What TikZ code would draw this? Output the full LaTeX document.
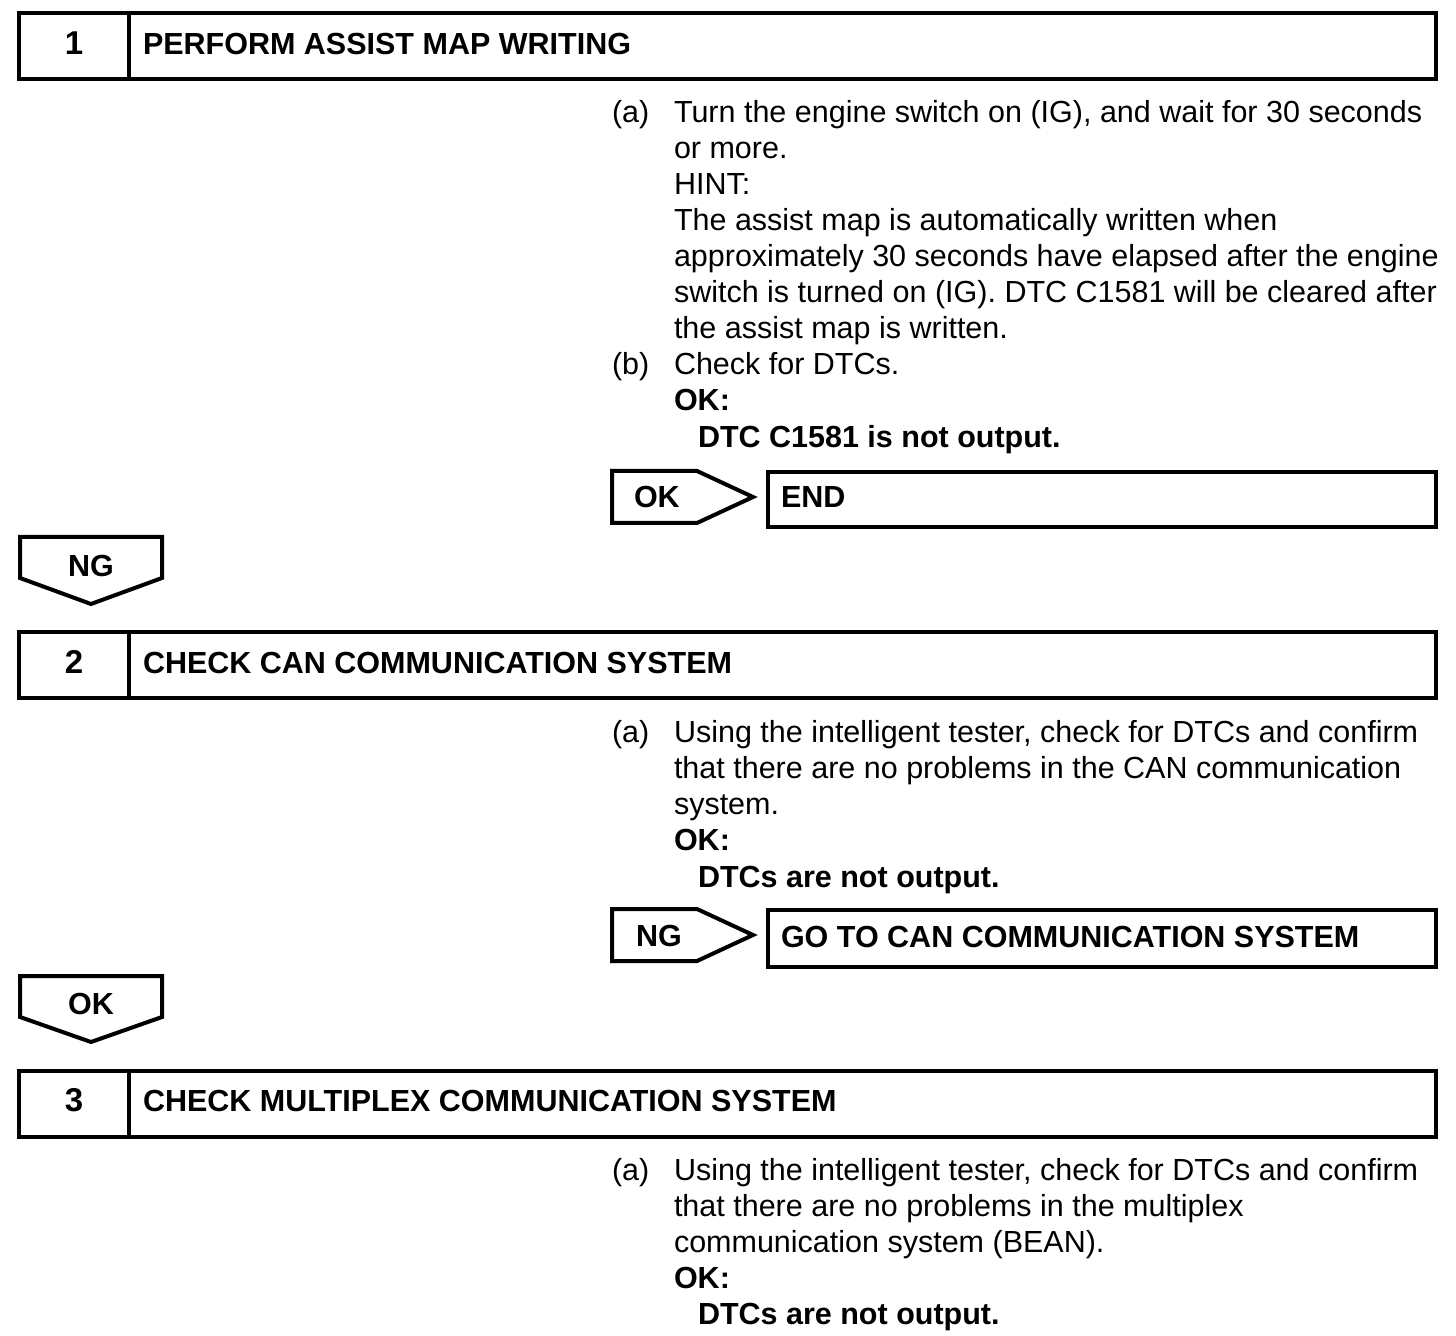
\documentclass[tikz,border=0pt]{standalone}
\usepackage{fontspec}
\setmainfont{Liberation Sans}

\begin{document}
\begin{tikzpicture}[x=0.5pt, y=-0.5pt, line width=2pt, line join=miter,
    txt/.style={font=\fontsize{15.25}{18}\selectfont, inner sep=0pt, anchor=base west},
    bold/.style={txt, font=\fontsize{15.25}{18}\selectfont\bfseries},
    num/.style={bold, anchor=base}]
        \useasboundingbox (0,0) rectangle (1456,1336);

        % step 1
        \draw (19,13) rectangle (1436,79);
        \draw (129,13)--(129,79);
        \node[num, font=\fontsize{16.5}{18}\selectfont\bfseries] (n1) at (74,55) {1};
        \node[bold] (h1) at (141,55) {PERFORM ASSIST MAP WRITING};

        \node[txt] (a1) at (610,123) {(a)};
        \foreach \line [count=\i] in {{Turn the engine switch on (IG), and wait for 30 seconds},
            or more., HINT:, The assist map is automatically written when,
            approximately 30 seconds have elapsed after the engine,
            {switch is turned on (IG). DTC C1581 will be cleared after},
            the assist map is written.}
          \node[txt] (t1-\i) at (672,87+36*\i) {\line};
        \node[txt] (b1) at (610,375) {(b)};
        \node[txt] (t1-8) at (672,375) {Check for DTCs.};
        \node[bold] (ok1) at (672,411) {OK:};
        \node[bold] (sp1) at (696,448) {DTC C1581 is not output.};

        \coordinate (A) at (612,471);
        \coordinate (B) at (697,471);
        \coordinate (C) at (753,497);
        \coordinate (D) at (697,523);
        \coordinate (E) at (612,523);
        \draw (A)--(B)--(C)--(D)--(E)--cycle;
        \node[bold] (r1) at (632,508) {OK};
        \draw (768,472) rectangle (1436,527);
        \node[bold] (end) at (779,508) {END};

        \coordinate (F) at (20,537);
        \coordinate (G) at (162,537);
        \coordinate (H) at (162,578);
        \coordinate (I) at (91,604);
        \coordinate (J) at (20,578);
        \draw (F)--(G)--(H)--(I)--(J)--cycle;
        \node[num] (d1) at (91,576) {NG};

        % step 2
        \draw (19,632) rectangle (1436,698);
        \draw (129,632)--(129,698);
        \node[num, font=\fontsize{16.5}{18}\selectfont\bfseries] (n2) at (74,673) {2};
        \node[bold] (h2) at (141,673) {CHECK CAN COMMUNICATION SYSTEM};

        \node[txt] (a2) at (610,742) {(a)};
        \foreach \line [count=\i] in {{Using the intelligent tester, check for DTCs and confirm},
            that there are no problems in the CAN communication, system.}
          \node[txt] (t2-\i) at (672,706+36*\i) {\line};
        \node[bold] (ok2) at (672,850) {OK:};
        \node[bold] (sp2) at (696,887) {DTCs are not output.};

        \coordinate (K) at (612,909);
        \coordinate (L) at (697,909);
        \coordinate (M) at (753,935);
        \coordinate (N) at (697,961);
        \coordinate (O) at (612,961);
        \draw (K)--(L)--(M)--(N)--(O)--cycle;
        \node[bold] (r2) at (634,946) {NG};
        \draw (768,910) rectangle (1436,967);
        \node[bold] (go) at (779,947) {GO TO CAN COMMUNICATION SYSTEM};

        \coordinate (P) at (20,976);
        \coordinate (Q) at (162,976);
        \coordinate (R) at (162,1017);
        \coordinate (S) at (91,1042);
        \coordinate (T) at (20,1017);
        \draw (P)--(Q)--(R)--(S)--(T)--cycle;
        \node[num] (d2) at (91,1014) {OK};

        % step 3
        \draw (19,1071) rectangle (1436,1137);
        \draw (129,1071)--(129,1137);
        \node[num, font=\fontsize{16.5}{18}\selectfont\bfseries] (n3) at (74,1111) {3};
        \node[bold] (h3) at (141,1111) {CHECK MULTIPLEX COMMUNICATION SYSTEM};

        \node[txt] (a3) at (610,1180) {(a)};
        \foreach \line [count=\i] in {{Using the intelligent tester, check for DTCs and confirm},
            that there are no problems in the multiplex,
            communication system (BEAN).}
          \node[txt] (t3-\i) at (672,1144+36*\i) {\line};
        \node[bold] (ok3) at (672,1288) {OK:};
        \node[bold] (sp3) at (696,1324) {DTCs are not output.};
      \end{tikzpicture}
\end{document}
